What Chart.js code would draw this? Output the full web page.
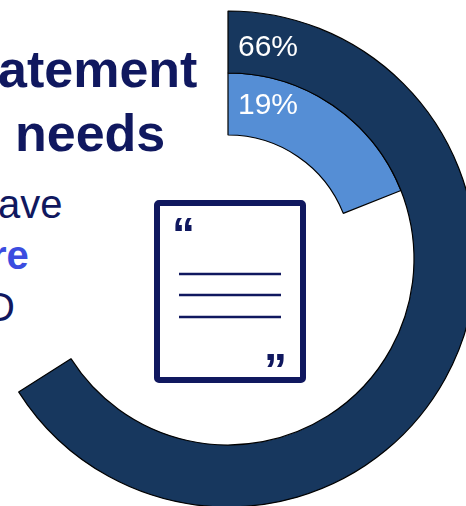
<!DOCTYPE html>
<html>
<head>
<meta charset="utf-8">
<title>Statement needs</title>
<script src="https://cdn.jsdelivr.net/npm/chart.js@4"></script>
<style>
  html, body { margin: 0; padding: 0; background: #fff; }
  body { position: relative; width: 466px; height: 506px; overflow: hidden; font-family: "Liberation Sans", Arial, sans-serif; color: #10185f; }
  #ring { position: absolute; left: -32px; top: -1px; }
  .t { position: absolute; white-space: nowrap; line-height: 1; }
  .head { font-size: 52px; font-weight: bold; }
  .body { font-size: 40px; }
  .hl { color: #3b4de0; font-weight: bold; }
  #doc { position: absolute; left: 0; top: 0; }
</style>
</head>
<body>
<div class="t head" style="left:-2px; top:43px">atement</div>
<div class="t head" style="left:15px; top:107px">needs</div>
<div class="t body" style="left:-2px; top:184px">ave</div>
<div class="t body hl" style="left:-9px; top:235px">re</div>
<div class="t body" style="left:-14px; top:287px">D</div>

<canvas id="ring" width="520" height="520"></canvas>

<svg id="doc" width="466" height="506">
  <rect x="157" y="203" width="146" height="177" rx="2" fill="#fff" stroke="#10185f" stroke-width="6"/>
  <g stroke="#10185f" stroke-width="2.5">
    <line x1="179" y1="274" x2="281" y2="274"/>
    <line x1="179" y1="295" x2="281" y2="295"/>
    <line x1="179" y1="317" x2="281" y2="317"/>
  </g>
  <text x="172" y="250" fill="#10185f" font-family="Liberation Sans" font-weight="bold" font-size="46">“</text>
  <text x="264" y="386" fill="#10185f" font-family="Liberation Sans" font-weight="bold" font-size="46">”</text>
</svg>

<script>
const outerValues = [66, 34];
const innerValues = [19, 81];
const segments = ['Share', 'Rest'];

const darkBlue = '#17375e';
const lightBlue = '#558ed5';

// nudge per ring so each label sits a little below the ring's midline
const labelDrop = [6, 2];

// writes the share at the start of each ring
const ringLabels = {
  id: 'ringLabels',
  afterDatasetsDraw(chart) {
    const ctx = chart.ctx;
    ctx.save();
    ctx.fillStyle = '#fff';
    ctx.font = '30px "Liberation Sans"';
    ctx.textBaseline = 'middle';
    chart.data.datasets.forEach((ds, i) => {
      const arc = chart.getDatasetMeta(i).data[0];
      const mid = (arc.innerRadius + arc.outerRadius) / 2;
      ctx.fillText(ds.data[0] + '%', arc.x + 10, arc.y - mid + labelDrop[i]);
    });
    ctx.restore();
  },
};

new Chart(document.getElementById('ring'), {
  type: 'doughnut',
  data: {
    labels: segments,
    datasets: [
      { data: outerValues, backgroundColor: [darkBlue, 'transparent'], borderColor: ['#000', 'transparent'], borderWidth: [1.2, 0] },
      { data: innerValues, backgroundColor: [lightBlue, 'transparent'], borderColor: ['#000', 'transparent'], borderWidth: [1.2, 0] },
    ],
  },
  options: {
    responsive: false,
    animation: false,
    radius: 248,
    cutout: '50%',
    plugins: { legend: { display: false }, tooltip: { enabled: false } },
  },
  plugins: [ringLabels],
});
</script>
</body>
</html>
